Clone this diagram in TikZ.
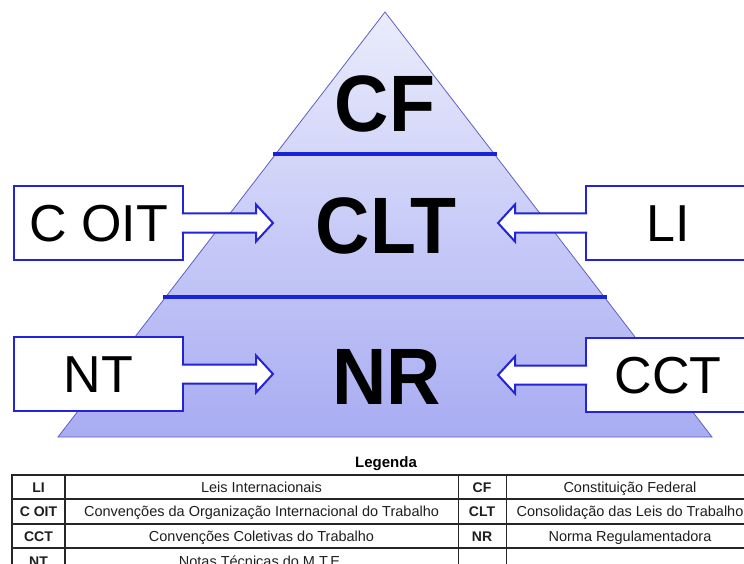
\documentclass[tikz,border=0pt]{standalone}
\usepackage{fontspec}
\setmainfont{Liberation Sans}
\newfontfamily\tierfont[FakeStretch=0.94]{Liberation Sans}
\usetikzlibrary{calc}
\definecolor{pyrtop}{RGB}{234,236,252}
\definecolor{pyrbot}{RGB}{168,172,242}
\definecolor{pyredge}{RGB}{95,95,195}
\definecolor{divblue}{RGB}{25,35,215}
\definecolor{boxblue}{RGB}{35,35,215}
\definecolor{tabtext}{RGB}{30,30,30}
\newcommand\blockarr[3]{%
  \filldraw[arrowbox] ($(#1)+(0,-9.5)$) -- ($(#2)+(#3,-9.5)$) -- ($(#2)+(#3,-18.5)$) -- (#2)
    -- ($(#2)+(#3,18.5)$) -- ($(#2)+(#3,9.5)$) -- ($(#1)+(0,9.5)$);}
\begin{document}
\begin{tikzpicture}[x=1pt,y=-1pt,
  labbox/.style={draw=boxblue, line width=2pt, fill=white, outer sep=0pt, inner sep=0pt,
    minimum height=74pt, text height=37pt, text depth=0pt, font=\fontsize{52}{60}\selectfont},
  tier/.style={font=\tierfont\bfseries\fontsize{80}{90}\selectfont, inner sep=0pt, anchor=base},
  arrowbox/.style={draw=boxblue, line width=2pt, fill=white, line join=miter},
  tabcell/.style={font=\fontsize{14.5}{16}\selectfont, text=tabtext, inner sep=0pt, text height=10.2pt, text depth=0pt},
  tababbr/.style={tabcell, font=\bfseries\fontsize{14}{16}\selectfont},
  tabthick/.style={line width=1.6pt, black!85},
  tabthin/.style={line width=1pt, black!85},
]
\clip (0,0) rectangle (744,564);
\fill[white] (0,0) rectangle (744,564);
% pyramid
\shade[top color=pyrtop, bottom color=pyrbot] (385,12) -- (712,437) -- (58,437) -- cycle;
\draw[pyredge, line width=0.8pt, line join=miter] (385,12) -- (712,437) -- (58,437) -- cycle;
\draw[divblue, line width=3.5pt] (273,154) -- (497,154);
\draw[divblue, line width=3.5pt] (163,297) -- (607,297);
% tier labels
\node[tier] (cf) at (385,132) {CF};
\node[tier] (clt) at (386,253) {CLT};
\node[tier] (nr) at (387,404) {NR};
% side boxes
\node[labbox, minimum width=169pt] (coit) at (98.5,223) {C OIT};
\node[labbox, minimum width=164pt] (li) at (668,223) {LI};
\node[labbox, minimum width=169pt] (nt) at (98.5,374) {NT};
\node[labbox, minimum width=164pt] (cct) at (668,375) {CCT};
% arrows
\coordinate (coitS) at ($(coit.east)+(-1.2,0)$);
\coordinate (liS) at ($(li.west)+(1.2,0)$);
\coordinate (ntS) at ($(nt.east)+(-1.2,0)$);
\coordinate (cctS) at ($(cct.west)+(1.2,0)$);
\coordinate (tipCLTl) at (273,223);
\coordinate (tipCLTr) at (498,223);
\coordinate (tipNRl) at (273,374);
\coordinate (tipNRr) at (498,375);
\blockarr{coitS}{tipCLTl}{-17}
\blockarr{liS}{tipCLTr}{17}
\blockarr{ntS}{tipNRl}{-17}
\blockarr{cctS}{tipNRr}{17}
% legend table
\node[font=\bfseries\fontsize{15}{17}\selectfont, inner sep=0pt] (leg) at (386,464) {Legenda};
\draw[tabthick] (760,475) -- (12,475) -- (12,570);
\draw[tabthick] (65,475) -- (65,570);
\draw[tabthin] (458,475) -- (458,570);
\draw[tabthin] (506,475) -- (506,570);
\draw[tabthin, line width=1.2pt] (12,499) -- (760,499);
\draw[tabthin, line width=1.2pt] (12,524) -- (760,524);
\draw[tabthin, line width=1.2pt] (12,548) -- (760,548);
\node[tababbr] (aLI) at (38.5,487) {LI};
\node[tabcell] (dLI) at (261.5,487) {Leis Internacionais};
\node[tababbr] (aCOIT) at (38.5,511.5) {C OIT};
\node[tabcell] (dCOIT) at (261.5,511.5) {Convenções da Organização Internacional do Trabalho};
\node[tababbr] (aCCT) at (38.5,536) {CCT};
\node[tabcell] (dCCT) at (261.5,536) {Convenções Coletivas do Trabalho};
\node[tababbr] (aNT) at (38.5,561) {NT};
\node[tabcell] (dNT) at (261.5,561) {Notas Técnicas do M.T.E.};
\node[tababbr] (aCF) at (482,487) {CF};
\node[tabcell] (dCF) at (630,487) {Constituição Federal};
\node[tababbr] (aCLT) at (482,511.5) {CLT};
\node[tabcell] (dCLT) at (630,511.5) {Consolidação das Leis do Trabalho};
\node[tababbr] (aNR) at (482,536) {NR};
\node[tabcell] (dNR) at (630,536) {Norma Regulamentadora};
\end{tikzpicture}
\end{document}
